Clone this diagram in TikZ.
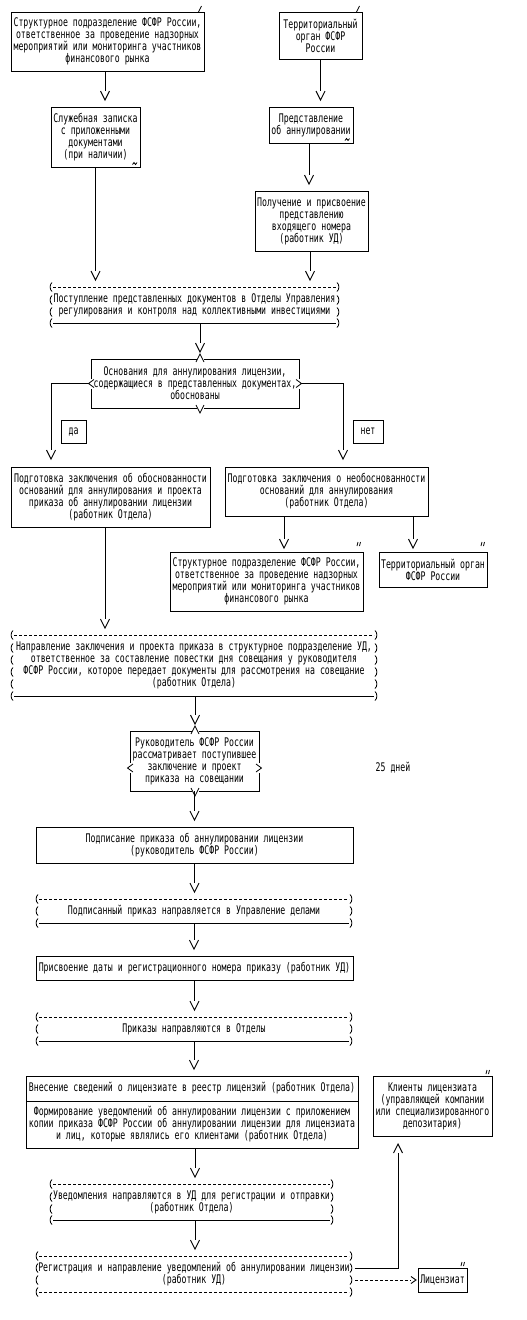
\documentclass[tikz,border=0pt]{standalone}
\usepackage{fontspec}
\newfontfamily\pixfam[FakeStretch=0.69]{DejaVu Sans Mono}
\newcommand\pix{\pixfam\fontsize{11.9}{12}\selectfont}
\usetikzlibrary{arrows.meta}
\pgfdeclarearrow{
  name = pseudoV,
  setup code = {
    \pgfarrowssettipend{0pt}
    \pgfarrowssetlineend{-9pt}
    \pgfarrowssetbackend{-9pt}
    \pgfarrowshullpoint{0pt}{0pt}
    \pgfarrowshullpoint{-9pt}{4.5pt}
    \pgfarrowshullpoint{-9pt}{-4.5pt}
  },
  drawing code = {
    \pgfsetdash{}{0pt}
    \pgfpathmoveto{\pgfqpoint{-9pt}{4.5pt}}
    \pgfpathlineto{\pgfqpoint{0pt}{0pt}}
    \pgfpathlineto{\pgfqpoint{-9pt}{-4.5pt}}
    \pgfusepathqstroke
  }
}
\pgfdeclarearrow{
  name = pseudoR,
  setup code = {
    \pgfarrowssettipend{0pt}
    \pgfarrowssetlineend{-5pt}
    \pgfarrowssetbackend{-5pt}
    \pgfarrowshullpoint{0pt}{0pt}
    \pgfarrowshullpoint{-5pt}{3.5pt}
    \pgfarrowshullpoint{-5pt}{-3.5pt}
  },
  drawing code = {
    \pgfsetdash{}{0pt}
    \pgfpathmoveto{\pgfqpoint{-5pt}{3.5pt}}
    \pgfpathlineto{\pgfqpoint{0pt}{0pt}}
    \pgfpathlineto{\pgfqpoint{-5pt}{-3.5pt}}
    \pgfusepathqstroke
  }
}
\tikzset{
  bx/.style={draw, line width=0.9pt, inner sep=0pt, outer sep=0pt, font=\pix, align=center},
  pb/.style={inner sep=0pt, outer sep=0pt, font=\pix, align=center},
  ln/.style={line width=0.9pt},
  conn/.style={ln, -{pseudoV}, shorten >=7pt},
  mk/.style={line width=0.8pt},
  pdash/.style={line width=0.9pt, dash pattern=on 3pt off 2pt},
}
% box by corners: name, x1, y1, x2, y2, text
\newcommand\boxat[6]{\node[bx, minimum width={#4-#2}, minimum height={#5-#3}] (#1) at ({(#2+#4)/2},{(#3+#5)/2}) {#6};}
\newcommand\myLp[2]{\draw[mk] ({#1+2.5},{#2-4.5}) .. controls (#1,{#2-2.5}) and (#1,{#2+2.5}) .. ({#1+2.5},{#2+4.5});}
\newcommand\myRp[2]{\draw[mk] ({#1-2.5},{#2-4.5}) .. controls (#1,{#2-2.5}) and (#1,{#2+2.5}) .. ({#1-2.5},{#2+4.5});}
% paren box: name, x1, x2, ytop, ybottom, rows, bottom style, text
\newcommand\pbx[8]{%
  \node[pb, minimum width={#3-#2}, minimum height={#5-#4}] (#1) at ({(#2+#3)/2},{(#4+#5)/2}) {#8};
  \draw[pdash] ({#2+4},#4) -- ({#3-4},#4);
  \draw[#7] ({#2+4},#5) -- ({#3-4},#5);
  \foreach \yy in {#6} {\myLp{#2+0.5}{\yy}\myRp{#3-0.5}{\yy}}%
}
% diamond markers on box borders
\newcommand\mkup[2]{\fill[white] ({#1-3.5},{#2-1}) rectangle ({#1+3.5},{#2+1});\draw[mk] ({#1-4},{#2+3}) -- (#1,{#2-5}) -- ({#1+4},{#2+3});}
\newcommand\mkdown[2]{\fill[white] ({#1-3.5},{#2-1}) rectangle ({#1+3.5},{#2+1});\draw[mk] ({#1-4},{#2-3}) -- (#1,{#2+5}) -- ({#1+4},{#2-3});}
\newcommand\mkleft[2]{\fill[white] ({#1-1},{#2-5}) rectangle ({#1+1},{#2+5});\draw[mk] ({#1+3},{#2-4}) -- ({#1-2.5},#2) -- ({#1+3},{#2+4});}
\newcommand\mkright[2]{\fill[white] ({#1-1},{#2-5}) rectangle ({#1+1},{#2+5});\draw[mk] ({#1-3},{#2-4}) -- ({#1+2.5},#2) -- ({#1-3},{#2+4});}
\newcommand\mktil[2]{\draw[mk] (#1,{#2+1}) -- ({#1+1.5},{#2-1}) -- ({#1+3},{#2+1}) -- ({#1+4.5},{#2-1});}
\newcommand\mkdq[2]{\draw[mk] (#1,{#2+2}) -- ({#1+1},{#2-2}) ({#1+2.5},{#2+2}) -- ({#1+3.5},{#2-2});}
\begin{document}
\begin{tikzpicture}[x=1pt,y=-1pt]
\fill[white] (0,0) rectangle (527,1320);
\useasboundingbox (0,0) rectangle (527,1320);

\boxat{b1}{11}{12}{204}{71}{Структурное подразделение ФСФР России,\\ответственное за проведение надзорных\\мероприятий или мониторинга участников\\финансового рынка}
\boxat{b2}{279}{12}{362}{59}{Территориальный\\орган ФСФР\\России}
\boxat{sl}{51}{107}{140}{167}{Служебная записка\\с приложенными\\документами\\(при наличии)}
\boxat{pr}{269}{107}{353}{143}{Представление\\об аннулировании}
\boxat{po}{255}{191}{368}{251}{Получение и присвоение\\представлению\\входящего номера\\(работник УД)}
\pbx{p1}{49}{340}{287}{323}{287,300,312,323}{ln}{Поступление представленных документов в Отделы Управления\\регулирования и контроля над коллективными инвестициями}
\boxat{osn}{91}{359}{299}{408}{Основания для аннулирования лицензии,\\содержащиеся в представленных документах,\\обоснованы}
\boxat{da}{61}{420}{86}{443}{да}
\boxat{net}{353}{420}{383}{443}{нет}
\boxat{lp}{11}{467}{210}{527}{Подготовка заключения об обоснованности\\оснований для аннулирования и проекта\\приказа об аннулировании лицензии\\(работник Отдела)}
\boxat{rp}{225}{467}{428}{516}{Подготовка заключения о необоснованности\\оснований для аннулирования\\(работник Отдела)}
\boxat{s2}{170}{552}{363}{611}{Структурное подразделение ФСФР России,\\ответственное за проведение надзорных\\мероприятий или мониторинга участников\\финансового рынка}
\boxat{t2}{379}{552}{487}{587}{Территориальный орган\\ФСФР России}
\pbx{p2}{10}{378}{635}{696}{635,648,660,672,684,696}{ln}{Направление заключения и проекта приказа в структурное подразделение УД,\\ответственное за составление повестки дня совещания у руководителя\\ФСФР России, которое передает документы для рассмотрения на совещание\\(работник Отдела)}
\boxat{ruk}{130}{731}{259}{791}{Руководитель ФСФР России\\рассматривает поступившее\\заключение и проект\\приказа на совещании}
\node[pb] (days) at (393,768) {25 дней};
\boxat{podp}{36}{827}{353}{863}{Подписание приказа об аннулировании лицензии\\(руководитель ФСФР России)}
\pbx{p3}{35}{353}{899}{923}{899,911,923}{ln}{Подписанный приказ направляется в Управление делами}
\boxat{prisv}{36}{956}{353}{980}{Присвоение даты и регистрационного номера приказу (работник УД)}
\pbx{p4}{35}{353}{1017}{1041}{1017,1029,1041}{ln}{Приказы направляются в Отделы}
\boxat{vnes}{26}{1076}{358}{1101}{Внесение сведений о лицензиате в реестр лицензий (работник Отдела)}
\boxat{form}{26}{1101}{358}{1148}{Формирование уведомлений об аннулировании лицензии с приложением\\копии приказа ФСФР России об аннулировании лицензии для лицензиата\\и лиц, которые являлись его клиентами (работник Отдела)}
\boxat{kl}{373}{1076}{492}{1136}{Клиенты лицензиата\\(управляющей компании\\или специализированного\\депозитария)}
\pbx{p5}{49}{334}{1184}{1220}{1184,1197,1209,1220}{ln}{Уведомления направляются в УД для регистрации и отправки\\(работник Отдела)}
\pbx{p6}{35}{353}{1256}{1292}{1256,1268,1280,1292}{pdash}{Регистрация и направление уведомлений об аннулировании лицензии\\(работник УД)}
\boxat{lic}{418}{1268}{467}{1292}{Лицензиат}

% markers
\mkup{200}{359}\mkdown{200}{408}\mkleft{91}{383.5}\mkright{299}{383.5}
\mkup{195}{731}\mkdown{195}{791}\mkleft{130}{768}\mkright{259}{768}
\draw[mk] (198.5,12) -- (201.5,6);
\draw[mk] (356.5,12) -- (359.5,6);
\mktil{132.5}{163.5}
\mktil{345}{139.5}
\mkdq{357}{544}
\mkdq{481}{544}
\mkdq{486}{1072}
\mkdq{461}{1264}

% connectors
\draw[conn] ([xshift=-2.5pt]b1.south) -- ([xshift=-2.5pt]b1.south |- sl.north);
\draw[conn] (b2.south) -- (b2.south |- pr.north);
\draw[conn] ([xshift=-2pt]pr.south) -- ([xshift=-2pt]pr.south |- po.north);
\draw[conn] (sl.south) -- (sl.south |- p1.north);
\draw[conn] ([xshift=-1.5pt]po.south) -- ([xshift=-1.5pt]po.south |- p1.north);
\draw[conn] ([xshift=5.5pt]p1.south) -- ([xshift=5.5pt]p1.south |- osn.north);
\draw[conn, shorten >=8pt] ([xshift=-3pt]osn.west) -| ([xshift=40pt]lp.north west);
\draw[conn, shorten >=8pt] ([xshift=3pt]osn.east) -| ([xshift=118pt]rp.north west);
\draw[conn, shorten >=4pt] ([xshift=59pt]rp.south west) -- ([xshift=59pt]rp.south west |- s2.north);
\draw[conn, shorten >=4pt] ([xshift=188pt]rp.south west) -- ([xshift=188pt]rp.south west |- t2.north);
\draw[conn] ([xshift=94pt]lp.south west) -- ([xshift=94pt]lp.south west |- p2.north);
\draw[conn] ([xshift=1pt]p2.south) -- ([xshift=1pt]p2.south |- ruk.north);
\draw[conn] (ruk.south) -- (ruk.south |- podp.north);
\draw[conn] (podp.south) -- (podp.south |- p3.north);
\draw[conn] (p3.south) -- (p3.south |- prisv.north);
\draw[conn] (prisv.south) -- (prisv.south |- p4.north);
\draw[conn] (p4.south) -- (p4.south |- vnes.north);
\draw[conn] ([xshift=3pt]form.south) -- ([xshift=3pt]form.south |- p5.north);
\draw[conn] ([xshift=3.5pt]p5.south) -- ([xshift=3.5pt]p5.south |- p6.north);
\draw[conn, shorten >=8pt] ([xshift=1.5pt,yshift=6pt]p6.east) -| ([xshift=25pt]kl.south west);
\draw[ln, dash pattern=on 3pt off 2pt, -{pseudoR}, shorten >=2pt] ([xshift=2pt,yshift=-6pt]p6.east) -- (lic.west);
\end{tikzpicture}
\end{document}
